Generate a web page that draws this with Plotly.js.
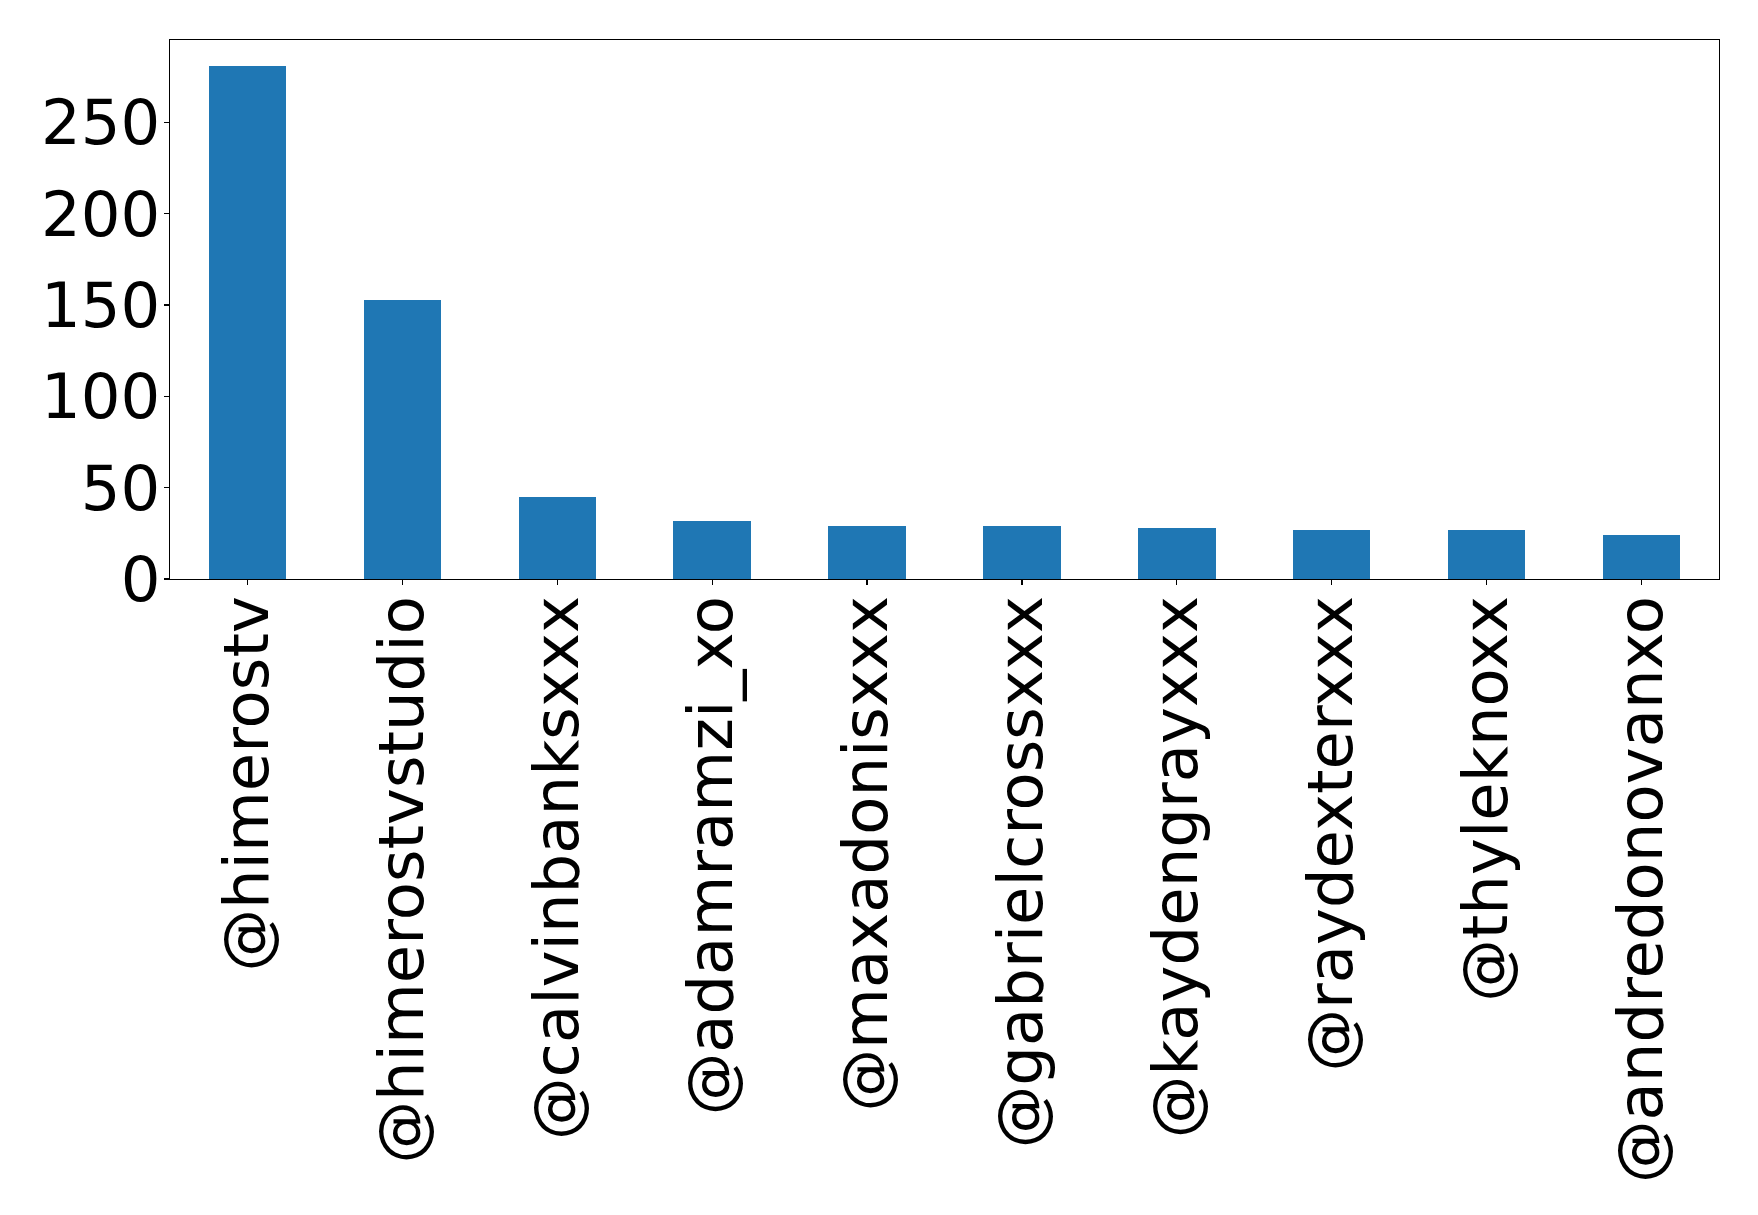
<!DOCTYPE html>
<html>
<head>
<meta charset="utf-8">
<script src="https://cdn.plot.ly/plotly-3.0.1.min.js"></script>
<style>
  html, body { margin: 0; padding: 0; background: #ffffff; }
  #chart { width: 1758px; height: 1215px; }
</style>
</head>
<body>
<div id="chart"></div>
<script>
const categories = ["@himerostv", "@himerostvstudio", "@calvinbanksxxx", "@adamramzi_xo", "@maxadonisxxx", "@gabrielcrossxxx", "@kaydengrayxxx", "@raydexterxxx", "@thyleknoxx", "@andredonovanxo"];
const counts = [281, 153, 45, 32, 29, 29, 28, 27, 27, 24];
const yTicks = [0, 50, 100, 150, 200, 250];

const trace = {
  type: "bar",
  x: categories,
  y: counts,
  width: 0.5,
  marker: { color: "#1f77b4", line: { width: 0 } },
  hoverinfo: "x+y"
};

const axisFont = { family: "DejaVu Sans, sans-serif", size: 62.5, color: "#000000" };

const layout = {
  width: 1758,
  height: 1215,
  margin: { l: 170, r: 39, t: 40, b: 636, pad: 0 },
  paper_bgcolor: "#ffffff",
  plot_bgcolor: "#ffffff",
  showlegend: false,
  bargap: 0,
  xaxis: {
    type: "category",
    range: [-0.5, categories.length - 0.5],
    tickangle: -90,
    tickfont: axisFont,
    ticks: "outside",
    ticklen: 5,
    tickwidth: 1.1,
    tickcolor: "#000000",
    ticklabelstandoff: -14,
    showline: true,
    linecolor: "#000000",
    linewidth: 1.1,
    mirror: true,
    showgrid: false,
    zeroline: false,
    automargin: false
  },
  yaxis: {
    range: [0, Math.max(...counts) * 1.05],
    tickmode: "array",
    tickvals: yTicks,
    ticktext: yTicks.map(String),
    tickfont: axisFont,
    ticks: "outside",
    ticklen: 5,
    tickwidth: 1.1,
    tickcolor: "#000000",
    ticklabelstandoff: -9,
    showline: true,
    linecolor: "#000000",
    linewidth: 1.1,
    mirror: true,
    showgrid: false,
    zeroline: false,
    automargin: false
  }
};

Plotly.newPlot("chart", [trace], layout, { displayModeBar: false, staticPlot: true });
</script>
</body>
</html>
